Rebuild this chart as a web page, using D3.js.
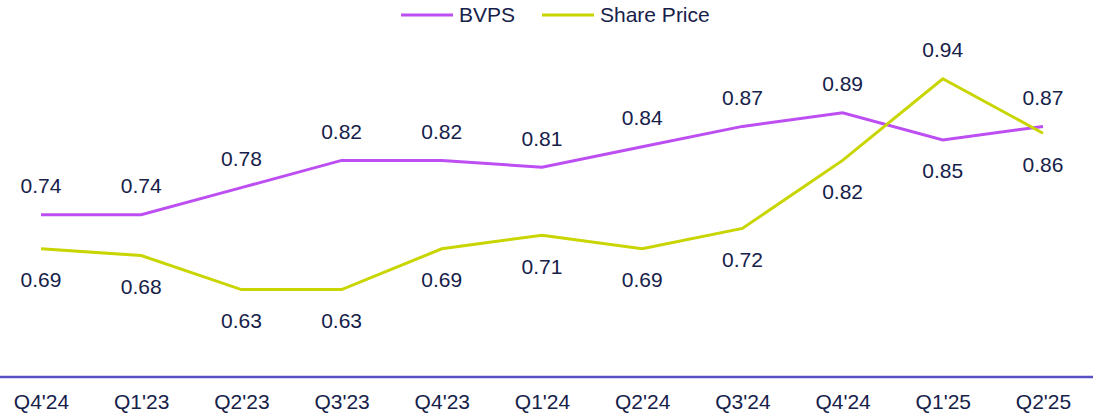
<!DOCTYPE html>
<html>
<head>
<meta charset="utf-8">
<script src="https://cdn.jsdelivr.net/npm/d3@7"></script>
<style>
  body { margin: 0; background: #fff; }
  text { font-family: "Liberation Sans", Arial, sans-serif; fill: #16214a; }
</style>
</head>
<body>
<div id="chart"></div>
<script>
const quarters = ["Q4'24", "Q1'23", "Q2'23", "Q3'23", "Q4'23", "Q1'24", "Q2'24", "Q3'24", "Q4'24", "Q1'25", "Q2'25"];
const bvps = [0.74, 0.74, 0.78, 0.82, 0.82, 0.81, 0.84, 0.87, 0.89, 0.85, 0.87];
const sharePrice = [0.69, 0.68, 0.63, 0.63, 0.69, 0.71, 0.69, 0.72, 0.82, 0.94, 0.86];

const width = 1101, height = 417;
const colors = {bvps: '#bd4ef2', share: '#c8d500'};

let svg = d3.select('#chart').append('svg')
    .attr('width', width)
    .attr('height', height);

// first label repeats "Q4'24", so the scale works on indices
let x = d3.scalePoint()
    .domain(d3.range(quarters.length))
    .range([41, 1043]);

let y = d3.scaleLinear()
    .domain([0.5, 1.0])
    .range([378, 38]);

// x axis
let axis = svg.append('g')
    .attr('transform', 'translate(0,377)')
    .call(d3.axisBottom(x).tickSize(0).tickPadding(17).tickFormat(i => quarters[i]));
axis.select('.domain')
    .attr('d', 'M0,0H1093')
    .attr('stroke', '#5a50c6')
    .attr('stroke-width', 2.5);
axis.selectAll('text')
    .style('font-size', '21px')
    .style('font-family', '"Liberation Sans", Arial, sans-serif')
    .attr('fill', '#16214a');

const series = [
    {name: 'BVPS', values: bvps, color: colors.bvps},
    {name: 'Share Price', values: sharePrice, color: colors.share}
];

const line = d3.line()
    .x((d, i) => x(i))
    .y(d => y(d));

series.forEach(s => {
    svg.append('path')
        .datum(s.values)
        .attr('fill', 'none')
        .attr('stroke', s.color)
        .attr('stroke-width', 3)
        .attr('d', line);
});

// labels: the higher series goes above, the lower one below
series.forEach((s, si) => {
    let other = series[1 - si].values;
    svg.append('g').selectAll('text')
        .data(s.values)
        .enter().append('text')
        .attr('x', (d, i) => x(i))
        .attr('y', (d, i) => {
            let above = si === 0 ? d >= other[i] : d > other[i];
            return y(d) + (above ? -29 : 31);
        })
        .attr('dy', '0.35em')
        .attr('text-anchor', 'middle')
        .style('font-size', '21px')
        .text(d => d.toFixed(2));
});

// legend
const legendItems = [
    {name: 'BVPS', color: colors.bvps, x: 401},
    {name: 'Share Price', color: colors.share, x: 542}
];
let legend = svg.append('g');
legendItems.forEach(item => {
    legend.append('line')
        .attr('x1', item.x).attr('x2', item.x + 52)
        .attr('y1', 15).attr('y2', 15)
        .attr('stroke', item.color)
        .attr('stroke-width', 3);
    legend.append('text')
        .attr('x', item.x + 58)
        .attr('y', 15)
        .attr('dy', '0.35em')
        .style('font-size', '21px')
        .text(item.name);
});
</script>
</body>
</html>
